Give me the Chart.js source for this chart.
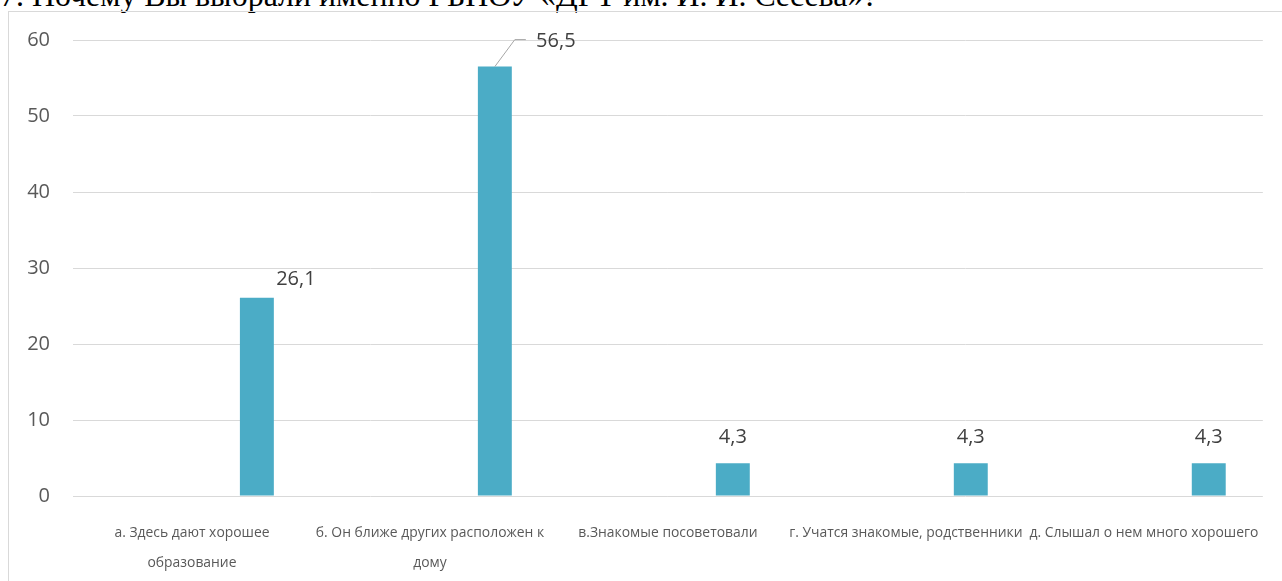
<!DOCTYPE html>
<html>
<head>
<meta charset="utf-8">
<script src="https://cdn.jsdelivr.net/npm/chart.js@4/dist/chart.umd.min.js"></script>
<style>
  html, body { margin: 0; padding: 0; width: 1282px; height: 581px; overflow: hidden; background: #fff; }
  #title { position: absolute; left: 0px; top: -19px; font-family: "Liberation Serif", "Times New Roman", serif; font-size: 31.9px; line-height: 30px; color: #000; white-space: nowrap; }
  #frame { position: absolute; left: 8px; top: 11px; width: 1300px; height: 620px; border: 1px solid #d9d9d9; box-sizing: border-box; }
  #wrap { position: absolute; left: 0; top: 0; width: 1282px; height: 581px; }
</style>
</head>
<body>
<div id="title">7. Почему Вы выбрали именно ГБПОУ «ДРТ им. И. И. Сёсева»?</div>
<div id="frame"></div>
<div id="wrap"><canvas id="c" width="1282" height="581"></canvas></div>
<script>
// ---- data ----
const categories = [
  ["а. Здесь дают хорошее", "образование"],
  ["б. Он ближе других расположен к", "дому"],
  "в.Знакомые посоветовали",
  "г. Учатся знакомые, родственники",
  "д. Слышал о нем много хорошего"
];
const emptySeriesA = [null, null, null, null, null];
const emptySeriesB = [null, null, null, null, null];
const percentValues = [26.1, 56.5, 4.3, 4.3, 4.3];
const valueLabels = ["26,1", "56,5", "4,3", "4,3", "4,3"];
const yTicks = [0, 10, 20, 30, 40, 50, 60];

// ---- label placement (style) ----
const labelStyle = [
  { dx: 39, dy: -18, leader: false },
  { dx: 61, dy: -25, leader: true },
  { dx: 0, dy: -26, leader: false },
  { dx: 0, dy: -26, leader: false },
  { dx: 0, dy: -26, leader: false }
];

const dataLabelPlugin = {
  id: 'dataLabels',
  afterDatasetsDraw(chart) {
    const ctx = chart.ctx;
    const meta = chart.getDatasetMeta(2);
    ctx.save();
    ctx.font = '20px "Open Sans", sans-serif';
    ctx.fillStyle = '#404040';
    ctx.textAlign = 'center';
    ctx.textBaseline = 'middle';
    meta.data.forEach((bar, i) => {
      const s = labelStyle[i];
      const lx = bar.x + s.dx, ly = bar.y + s.dy;
      if (s.leader) {
        ctx.strokeStyle = '#a6a6a6';
        ctx.lineWidth = 1;
        ctx.beginPath();
        ctx.moveTo(bar.x, bar.y);
        ctx.lineTo(bar.x + 20, bar.y - 27);
        ctx.lineTo(bar.x + 31, bar.y - 27);
        ctx.stroke();
      }
      ctx.fillText(valueLabels[i], lx, ly);
    });
    ctx.restore();
  }
};

new Chart(document.getElementById('c'), {
  type: 'bar',
  data: {
    labels: categories,
    datasets: [
      { label: 'A', data: emptySeriesA, backgroundColor: '#4BACC6' },
      { label: 'B', data: emptySeriesB, backgroundColor: '#4BACC6' },
      { label: 'Ряд', data: percentValues, backgroundColor: '#4BACC6' }
    ]
  },
  options: {
    responsive: false,
    animation: false,
    events: [],
    datasets: { bar: { categoryPercentage: 0.818, barPercentage: 0.523 } },
    layout: { padding: { top: 40, right: 17, left: 0, bottom: 0 } },
    plugins: { legend: { display: false }, tooltip: { enabled: false }, title: { display: false } },
    scales: {
      x: {
        grid: { display: false, drawTicks: false },
        border: { display: false },
        ticks: {
          autoSkip: false, maxRotation: 0, minRotation: 0,
          color: '#595959',
          padding: 22,
          font: { family: '"Open Sans", sans-serif', size: 13.9, lineHeight: 2.16 }
        },
        afterFit(scale) { scale.height = 85; }
      },
      y: {
        min: 0, max: 60,
        afterBuildTicks(scale) { scale.ticks = yTicks.map(v => ({ value: v })); },
        grid: { color: '#d9d9d9', lineWidth: 1, drawTicks: false },
        border: { display: false },
        ticks: {
          color: '#595959',
          padding: 23,
          font: { family: '"Open Sans", sans-serif', size: 20 }
        },
        afterFit(scale) { scale.width = 73; }
      }
    }
  },
  plugins: [dataLabelPlugin]
});
</script>
</body>
</html>
